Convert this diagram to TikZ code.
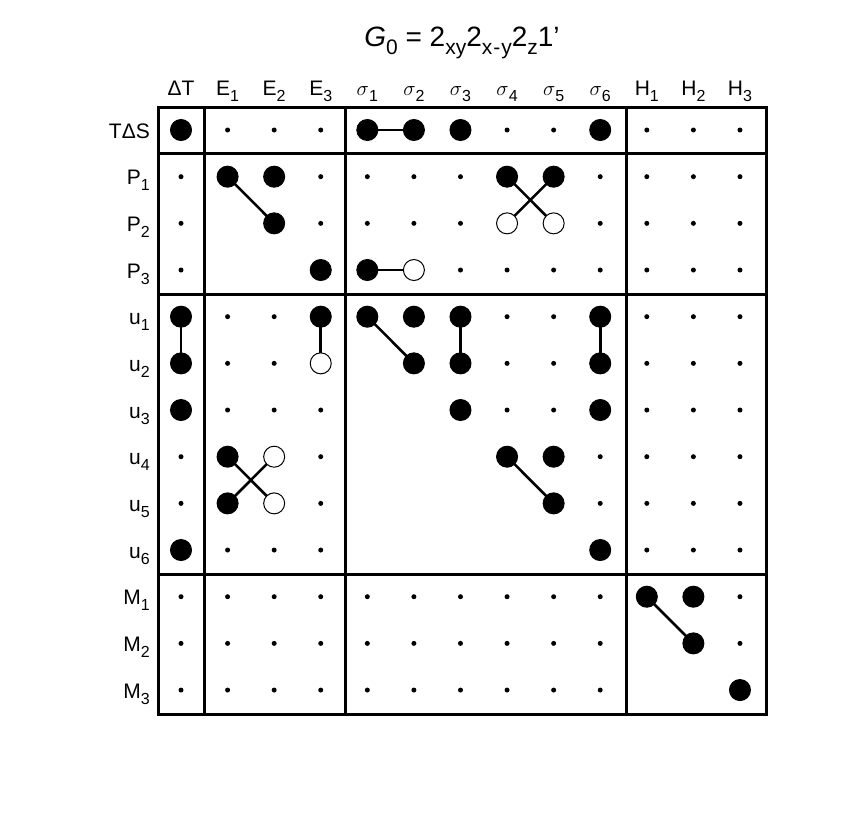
\documentclass[tikz,border=0pt]{standalone}
\usepackage{fontspec}
\setmainfont{Liberation Sans}
\newcommand{\sbs}[1]{\raisebox{-0.55ex}{\fontsize{16}{16}\selectfont #1}}
\begin{document}
\begin{tikzpicture}[x=1pt,y=-1pt,
  lab/.style={font=\fontsize{21}{22}\selectfont, inner sep=0pt},
  fdot/.style={circle,fill=black,draw=black,line width=1pt,minimum size=21pt,inner sep=0pt},
  odot/.style={circle,fill=white,draw=black,line width=1pt,minimum size=21pt,inner sep=0pt},
  sdot/.style={circle,fill=black,minimum size=5pt,inner sep=0pt},
  frame/.style={line width=3pt},
  link/.style={line width=2.6pt}]
\useasboundingbox (0,0) rectangle (856,812);
\node[inner sep=0pt,font=\fontsize{28}{29}\selectfont] (title) at (462,43) {\textit{G}\raisebox{-0.5ex}{\fontsize{21}{21}\selectfont 0} = 2\raisebox{-0.5ex}{\fontsize{21}{21}\selectfont xy}2\raisebox{-0.5ex}{\fontsize{21}{21}\selectfont x\kern1pt-\kern1pt y}2\raisebox{-0.5ex}{\fontsize{21}{21}\selectfont z}1'};
% column headers
\foreach \t [count=\i] in {ΔT,E\sbs{1},E\sbs{2},E\sbs{3},$\sigma$\sbs{1},$\sigma$\sbs{2},$\sigma$\sbs{3},$\sigma$\sbs{4},$\sigma$\sbs{5},$\sigma$\sbs{6},H\sbs{1},H\sbs{2},H\sbs{3}}
  \node[lab,anchor=base] (h\i) at ({181+46.58*(\i-1)},95) {\t};
% row labels
\foreach \t [count=\j] in {TΔS,P\sbs{1},P\sbs{2},P\sbs{3},u\sbs{1},u\sbs{2},u\sbs{3},u\sbs{4},u\sbs{5},u\sbs{6},M\sbs{1},M\sbs{2},M\sbs{3}}
  \node[lab,anchor=base east] (r\j) at (150,{138+46.67*(\j-1)}) {\t};
\def\cells{
 {F,d,d,d,F,F,F,d,d,F,d,d,d},
 {d,F,F,d,d,d,d,F,F,d,d,d,d},
 {d,n,F,d,d,d,d,O,O,d,d,d,d},
 {d,n,n,F,F,O,d,d,d,d,d,d,d},
 {F,d,d,F,F,F,F,d,d,F,d,d,d},
 {F,d,d,O,n,F,F,d,d,F,d,d,d},
 {F,d,d,d,n,n,F,d,d,F,d,d,d},
 {d,F,O,d,n,n,n,F,F,d,d,d,d},
 {d,F,O,d,n,n,n,n,F,d,d,d,d},
 {F,d,d,d,n,n,n,n,n,F,d,d,d},
 {d,d,d,d,d,d,d,d,d,d,F,F,d},
 {d,d,d,d,d,d,d,d,d,d,n,F,d},
 {d,d,d,d,d,d,d,d,d,d,n,n,F}}
\foreach \row [count=\j] in \cells
 \foreach \c [count=\i] in \row {
   \coordinate (p\j-\i) at ({181+46.58*(\i-1)},{130+46.67*(\j-1)});
 };
% connectors
\draw[link] (p1-5) -- (p1-6);
\draw[link] (p2-2) -- (p3-3);
\draw[link] (p2-8) -- (p3-9);
\draw[link] (p2-9) -- (p3-8);
\draw[link] (p4-5) -- (p4-6);
\draw[link] (p5-1) -- (p6-1);
\draw[link] (p5-4) -- (p6-4);
\draw[link] (p5-5) -- (p6-6);
\draw[link] (p5-7) -- (p6-7);
\draw[link] (p5-10) -- (p6-10);
\draw[link] (p8-2) -- (p9-3);
\draw[link] (p8-3) -- (p9-2);
\draw[link] (p8-8) -- (p9-9);
\draw[link] (p11-11) -- (p12-12);
\foreach \row [count=\j] in \cells
 \foreach \c [count=\i] in \row {
   \if\c F \node[fdot] (c\j-\i) at (p\j-\i) {};\fi
   \if\c O \node[odot] (c\j-\i) at (p\j-\i) {};\fi
   \if\c d \node[sdot] (c\j-\i) at (p\j-\i) {};\fi
 };
% frame
\draw[frame] (158,107) rectangle (766,714);
\draw[frame] (204,107) -- (204,714);
\draw[frame] (345,107) -- (345,714);
\draw[frame] (626,107) -- (626,714);
\draw[frame] (158,153) -- (766,153);
\draw[frame] (158,294) -- (766,294);
\draw[frame] (158,574) -- (766,574);
\end{tikzpicture}
\end{document}
